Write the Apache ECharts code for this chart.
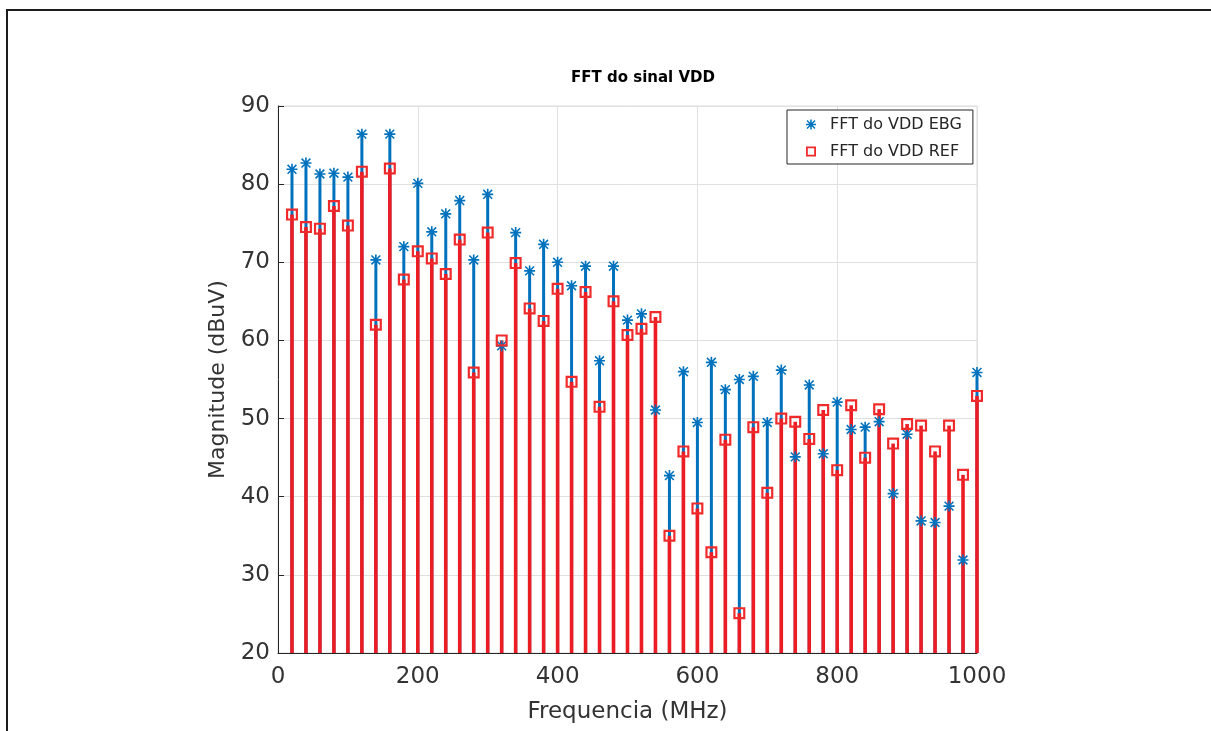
<!DOCTYPE html>
<html>
<head>
<meta charset="utf-8">
<title>FFT do sinal VDD</title>
<script src="https://cdn.jsdelivr.net/npm/echarts@6/dist/echarts.min.js"></script>
<style>
  html, body { margin: 0; padding: 0; background: #fff; }
  #chart { width: 1211px; height: 731px; }
</style>
</head>
<body>
<div id="chart"></div>
<script>
// Harmonic frequencies (MHz)
const freqs = [20, 40, 60, 80, 100, 120, 140, 160, 180, 200,
               220, 240, 260, 280, 300, 320, 340, 360, 380, 400,
               420, 440, 460, 480, 500, 520, 540, 560, 580, 600,
               620, 640, 660, 680, 700, 720, 740, 760, 780, 800,
               820, 840, 860, 880, 900, 920, 940, 960, 980, 1000];

// Magnitude of the VDD spectrum with EBG structure (dBuV)
const ebgValues = [81.9, 82.7, 81.3, 81.4, 80.9, 86.4, 70.3, 86.4, 72.0, 80.1,
                   73.9, 76.2, 77.9, 70.3, 78.7, 59.3, 73.8, 68.9, 72.3, 70.0,
                   67.0, 69.5, 57.4, 69.5, 62.6, 63.4, 51.1, 42.7, 56.0, 49.5,
                   57.2, 53.7, 55.0, 55.4, 49.5, 56.2, 45.1, 54.3, 45.5, 52.1,
                   48.6, 48.9, 49.6, 40.4, 48.0, 36.9, 36.7, 38.8, 31.9, 55.9];

// Magnitude of the reference VDD spectrum (dBuV)
const refValues = [76.1, 74.5, 74.3, 77.2, 74.7, 81.6, 62.0, 82.0, 67.8, 71.4,
                   70.5, 68.5, 72.9, 55.9, 73.8, 60.0, 69.9, 64.1, 62.5, 66.6,
                   54.7, 66.2, 51.5, 65.0, 60.7, 61.5, 63.0, 35.0, 45.8, 38.5,
                   32.9, 47.3, 25.1, 48.9, 40.5, 50.0, 49.6, 47.4, 51.1, 43.4,
                   51.7, 45.0, 51.2, 46.8, 49.3, 49.1, 45.8, 49.1, 42.8, 52.9];

// Axis ranges and tick spacing
const xTicks = [0, 200, 400, 600, 800, 1000];
const yTicks = [20, 30, 40, 50, 60, 70, 80, 90];

const seriesNames = ['FFT do VDD EBG', 'FFT do VDD REF'];
const titleText = 'FFT do sinal VDD';
const xName = 'Frequencia (MHz)';
const yName = 'Magnitude (dBuV)';

const BLUE = '#0072bd';
const RED = '#ec1c24';
const FONT = 'DejaVu Sans';

const ebgPoints = freqs.map((f, i) => [f, ebgValues[i]]);
const refPoints = freqs.map((f, i) => [f, refValues[i]]);

const yMin = yTicks[0], yMax = yTicks[yTicks.length - 1];
const xMin = xTicks[0], xMax = xTicks[xTicks.length - 1];

// Asterisk marker: four bars (horizontal, vertical, two diagonals), same winding
const asteriskPath = 'path://' +
  'M0 8.5 L20 8.5 L20 11.5 L0 11.5 Z ' +
  'M8.5 0 L11.5 0 L11.5 20 L8.5 20 Z ' +
  'M1 3 L3 1 L19 17 L17 19 Z ' +
  'M17 1 L19 3 L3 19 L1 17 Z';

// Hollow square marker: outer ring with an inner hole of opposite winding
const squarePath = 'path://' +
  'M0 0 L11 0 L11 11 L0 11 Z ' +
  'M2 2 L2 9 L9 9 L9 2 Z';

// Vertical stem from the axis floor up to each value
function stemRenderer(color, width) {
  return function (params, api) {
    const x = api.value(0);
    const y = api.value(1);
    const p0 = api.coord([x, yMin]);
    const p1 = api.coord([x, y]);
    return {
      type: 'line',
      shape: { x1: p0[0], y1: p0[1], x2: p1[0], y2: p1[1] },
      style: { stroke: color, lineWidth: width }
    };
  };
}

const plainNumber = (v) => String(v);

const chart = echarts.init(document.getElementById('chart'), null, { renderer: 'canvas' });

chart.setOption({
  animation: false,
  backgroundColor: '#ffffff',
  textStyle: { fontFamily: FONT },
  title: {
    text: titleText,
    left: 638,
    top: 66,
    textAlign: 'center',
    textStyle: { fontFamily: FONT, fontSize: 15, fontWeight: 'bold', color: '#000' }
  },
  graphic: [
    { type: 'line', shape: { x1: 6, y1: 10, x2: 1211, y2: 10 },
      style: { stroke: '#1c1c1c', lineWidth: 2 }, silent: true },
    { type: 'line', shape: { x1: 7, y1: 9, x2: 7, y2: 731 },
      style: { stroke: '#1c1c1c', lineWidth: 2 }, silent: true }
  ],
  grid: {
    left: 278, top: 106, width: 699, height: 547,
    show: true, borderColor: '#dcdcdc', borderWidth: 1,
    backgroundColor: 'transparent'
  },
  legend: {
    orient: 'vertical',
    left: 787, top: 110,
    data: seriesNames,
    backgroundColor: '#ffffff',
    borderColor: '#262626',
    borderWidth: 1,
    borderRadius: 0,
    padding: [6, 11, 4, 19],
    itemGap: 10,
    itemWidth: 28,
    itemHeight: 10,
    textStyle: { fontFamily: FONT, fontSize: 16, color: '#262626', lineHeight: 17 }
  },
  xAxis: {
    type: 'value',
    min: xMin, max: xMax, interval: xTicks[1] - xTicks[0],
    name: xName,
    nameLocation: 'middle',
    nameGap: 48,
    nameTextStyle: { fontFamily: FONT, fontSize: 23, color: '#333' },
    axisLine: { show: true, lineStyle: { color: '#262626', width: 1 } },
    axisTick: { show: true, inside: true, length: 6, lineStyle: { color: '#262626' } },
    axisLabel: { fontFamily: FONT, fontSize: 23, color: '#333', margin: 13, formatter: plainNumber },
    splitLine: { show: true, lineStyle: { color: '#e0e0e0', width: 1 } }
  },
  yAxis: {
    type: 'value',
    min: yMin, max: yMax, interval: yTicks[1] - yTicks[0],
    name: yName,
    nameLocation: 'middle',
    nameGap: 49,
    nameTextStyle: { fontFamily: FONT, fontSize: 22, color: '#333' },
    axisLine: { show: true, lineStyle: { color: '#262626', width: 1 } },
    axisTick: { show: true, inside: true, length: 6, lineStyle: { color: '#262626' } },
    axisLabel: { fontFamily: FONT, fontSize: 23, color: '#333', margin: 8, formatter: plainNumber },
    splitLine: { show: true, lineStyle: { color: '#e0e0e0', width: 1 } }
  },
  series: [
    {
      name: 'ebgStems',
      type: 'custom',
      renderItem: stemRenderer(BLUE, 3),
      data: ebgPoints,
      silent: true,
      z: 2
    },
    {
      name: 'refStems',
      type: 'custom',
      renderItem: stemRenderer(RED, 3.6),
      data: refPoints,
      silent: true,
      z: 3
    },
    {
      name: seriesNames[0],
      type: 'scatter',
      data: ebgPoints,
      symbol: asteriskPath,
      symbolSize: 11,
      itemStyle: { color: BLUE, opacity: 1 },
      z: 4
    },
    {
      name: seriesNames[1],
      type: 'scatter',
      data: refPoints,
      symbol: squarePath,
      symbolSize: 12,
      itemStyle: { color: '#f02a2a', opacity: 1 },
      z: 5
    }
  ]
});
</script>
</body>
</html>
